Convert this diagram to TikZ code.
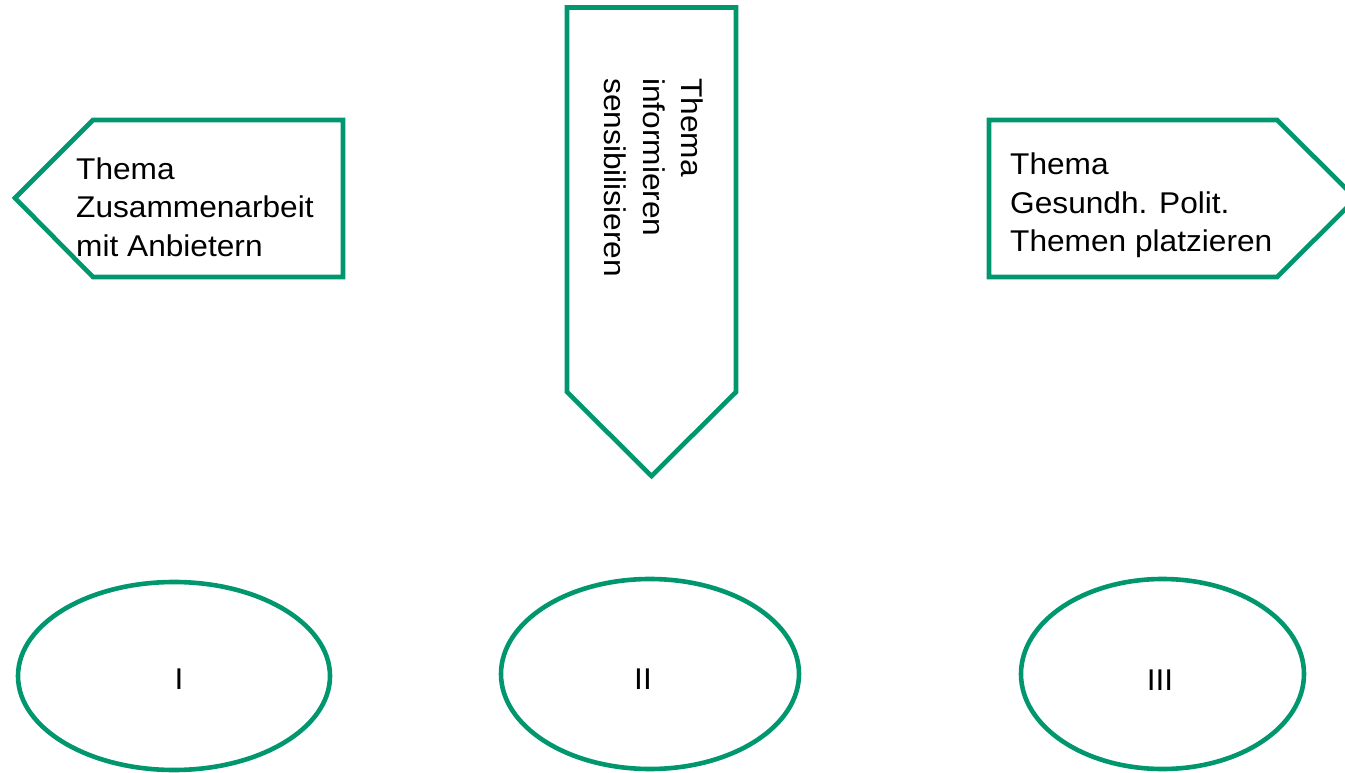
\documentclass[tikz,border=0pt]{standalone}
\usepackage{fontspec}
\setmainfont{Liberation Sans}[FakeStretch=1.055]
\usetikzlibrary{shapes.geometric}
\definecolor{themegreen}{RGB}{0,150,110}

\begin{document}
\begin{tikzpicture}[x=1pt, y=-1pt, font={\fontsize{30}{38.5}\selectfont}]
\tikzset{
  frame/.style={draw=themegreen, line width=4.6pt},
  txt/.style={inner sep=0pt, align=left, anchor=west},
  oval/.style={ellipse, draw=themegreen, line width=4.6pt, inner sep=0pt}
}
\useasboundingbox (0,0) rectangle (1345,773);
\draw[frame] (15,198) -- (93,120) -- (343,120) -- (343,277) -- (93,277) -- cycle;
\draw[frame] (567,7.5) -- (736,7.5) -- (736,392) -- (651.5,476) -- (567,392) -- cycle;
\draw[frame] (989,120) -- (1277,120) -- (1356,198.5) -- (1277,277) -- (989,277) -- cycle;
\node[txt] (coop) at (76,207) {Thema\\Zusammenarbeit\\mit Anbietern};
\node[txt, rotate=-90] (info) at (654,78) {Thema\\informieren\\sensibilisieren};
\node[txt] (polit) at (1010,205.5) {Thema\\Gesundh. Polit.\\Themen platzieren};
\node[oval, minimum width=312pt, minimum height=188pt] (e1) at (174,676) {};
\node[oval, minimum width=298pt, minimum height=190pt] (e2) at (650,674) {};
\node[oval, minimum width=283pt, minimum height=190pt] (e3) at (1162.5,674) {};
\node (n1) at (179,679) {I};
\node (n2) at (643,679) {II};
\node (n3) at (1160,680) {III};
\end{tikzpicture}
\end{document}
